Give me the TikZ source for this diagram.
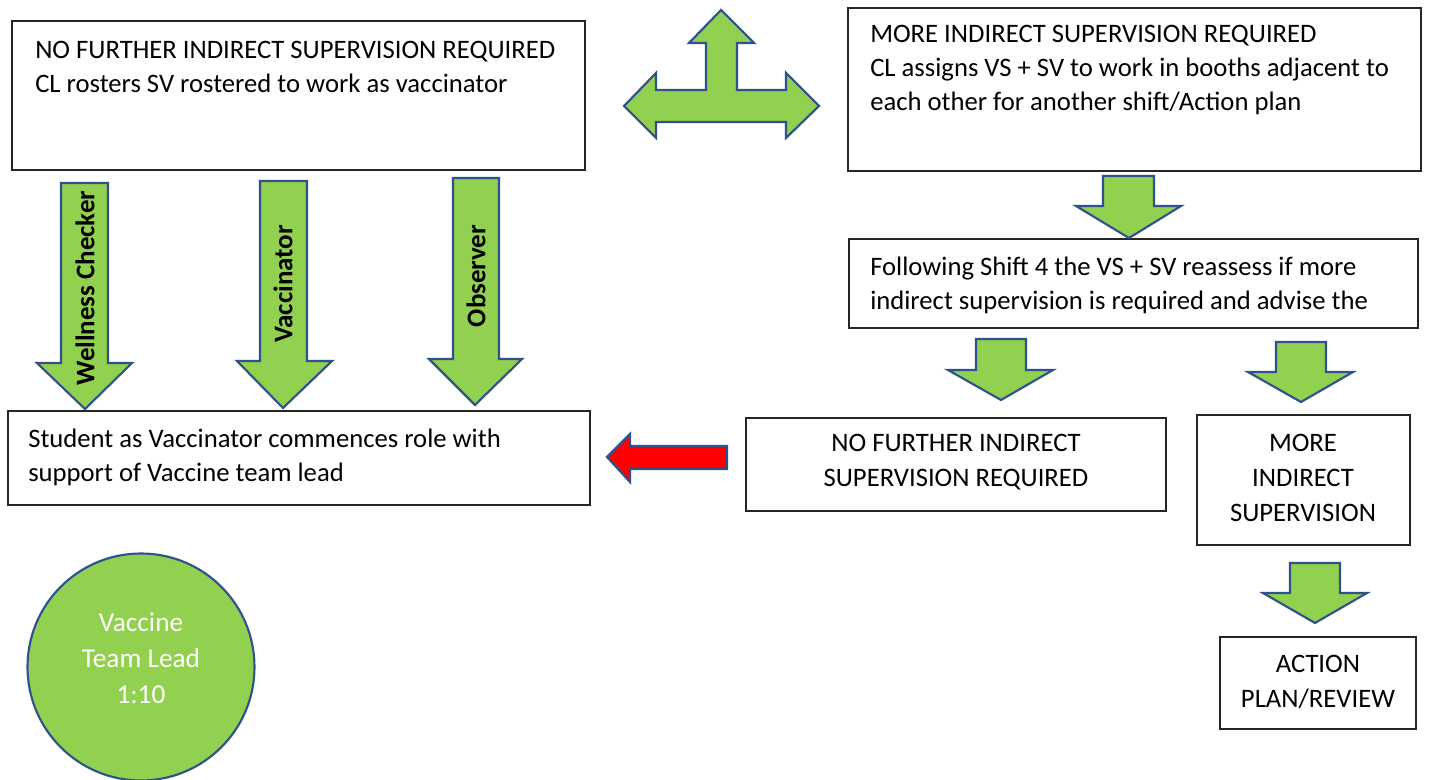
\documentclass[tikz,border=0pt]{standalone}
\usepackage{fontspec}
\setmainfont{Carlito}
\usetikzlibrary{fit}
\definecolor{agreen}{HTML}{92D050}
\definecolor{ablue}{HTML}{2F528F}
\begin{document}
\begin{tikzpicture}[x=0.75pt,y=-0.75pt,
  box/.style={draw=black!85, line width=1pt, inner sep=0pt},
  arr/.style={fill=agreen, draw=ablue, line width=1.6pt, line join=miter},
  redarr/.style={fill=red, draw=ablue, line width=1.6pt, line join=miter},
  txt/.style={font=\fontsize{20}{25.5}\selectfont, inner sep=0pt, align=left},
  ctxt/.style={font=\fontsize{20}{26.5}\selectfont, inner sep=0pt, align=center},
  albl/.style={font=\fontsize{20.2}{22}\selectfont\bfseries, inner sep=0pt, rotate=90},
  circ/.style={circle, fill=agreen, draw=ablue, line width=1.6pt, inner sep=0pt}]
\useasboundingbox (0,0) rectangle (1429,780);
\fill[white] (0,0) rectangle (1429,780);

% boxes
\node[box, fit={(12,21) (585,170)}] (boxA) {};
\node[txt, anchor=west] (tA) at (35,67) {NO FURTHER INDIRECT SUPERVISION REQUIRED\\CL rosters SV rostered to work as vaccinator};

\node[box, fit={(848,8) (1421,171)}] (boxB) {};
\node[txt, anchor=west] (tB) at (870,70) {MORE INDIRECT SUPERVISION REQUIRED\\CL assigns VS + SV to work in booths adjacent to\\each other for another shift/Action plan};

\node[box, fit={(849,239) (1418,328)}] (boxC) {};
\node[txt, anchor=west] (tC) at (870,285) {Following Shift 4 the VS + SV reassess if more\\indirect supervision is required and advise the};

\node[box, fit={(8,411) (590,505)}] (boxD) {};
\node[txt, anchor=west] (tD) at (28,457) {Student as Vaccinator commences role with\\support of Vaccine team lead};

\node[box, fit={(746,418) (1166,511)}] (boxE) {};
\node[ctxt] (tE) at (956,462) {NO FURTHER INDIRECT\\SUPERVISION REQUIRED};

\node[box, fit={(1197,415) (1410,545)}] (boxF) {};
\node[ctxt] (tF) at (1303,478) {MORE\\INDIRECT\\SUPERVISION};

\node[box, fit={(1220,637) (1416,729)}] (boxG) {};
\node[ctxt] (tG) at (1318,682) {ACTION\\PLAN/REVIEW};

% circle
\node[circ, minimum size=227*0.75pt] (lead) at (141,667) {};
\node[font=\fontsize{20.5}{27}\selectfont, align=center, text=white, inner sep=0pt] (tLead) at (141,658) {Vaccine\\Team Lead\\1:10};

% three-way arrow
\draw[arr] (721,10) -- (754,43) -- (737,43) -- (737,90) -- (786,90) -- (786,73) -- (819,106) -- (786,138) -- (786,122) -- (656,122) -- (656,138) -- (624,106) -- (656,73) -- (656,90) -- (706,90) -- (706,43) -- (689,43) -- cycle;

% vertical labelled arrows
\draw[arr] (61,183) -- (108,183) -- (108,363) -- (132,363) -- (85,409) -- (37,363) -- (61,363) -- cycle;
\node[albl] (lW) at (85,288) {Wellness Checker};
\draw[arr] (260,181) -- (307,181) -- (307,361) -- (332,361) -- (283,408) -- (237,361) -- (260,361) -- cycle;
\node[albl] (lV) at (283,284) {Vaccinator};
\draw[arr] (453,178) -- (499,178) -- (499,359) -- (522,359) -- (475,405) -- (429,359) -- (453,359) -- cycle;
\node[albl] (lO) at (476,276) {Observer};

% small down arrows
\draw[arr] (1103,176) -- (1154,176) -- (1154,206) -- (1181,206) -- (1129,238) -- (1076,206) -- (1103,206) -- cycle;
\draw[arr] (976,339) -- (1026,339) -- (1026,370) -- (1053,370) -- (1001,400) -- (948,370) -- (976,370) -- cycle;
\draw[arr] (1276,342) -- (1326,342) -- (1326,372) -- (1353,372) -- (1301,402) -- (1248,372) -- (1276,372) -- cycle;
\draw[arr] (1290,563) -- (1340,563) -- (1340,593) -- (1367,593) -- (1315,623) -- (1263,593) -- (1290,593) -- cycle;

% red arrow
\draw[redarr] (607,457) -- (630,434) -- (630,446) -- (727,446) -- (727,469) -- (630,469) -- (630,482) -- cycle;
\end{tikzpicture}
\end{document}
